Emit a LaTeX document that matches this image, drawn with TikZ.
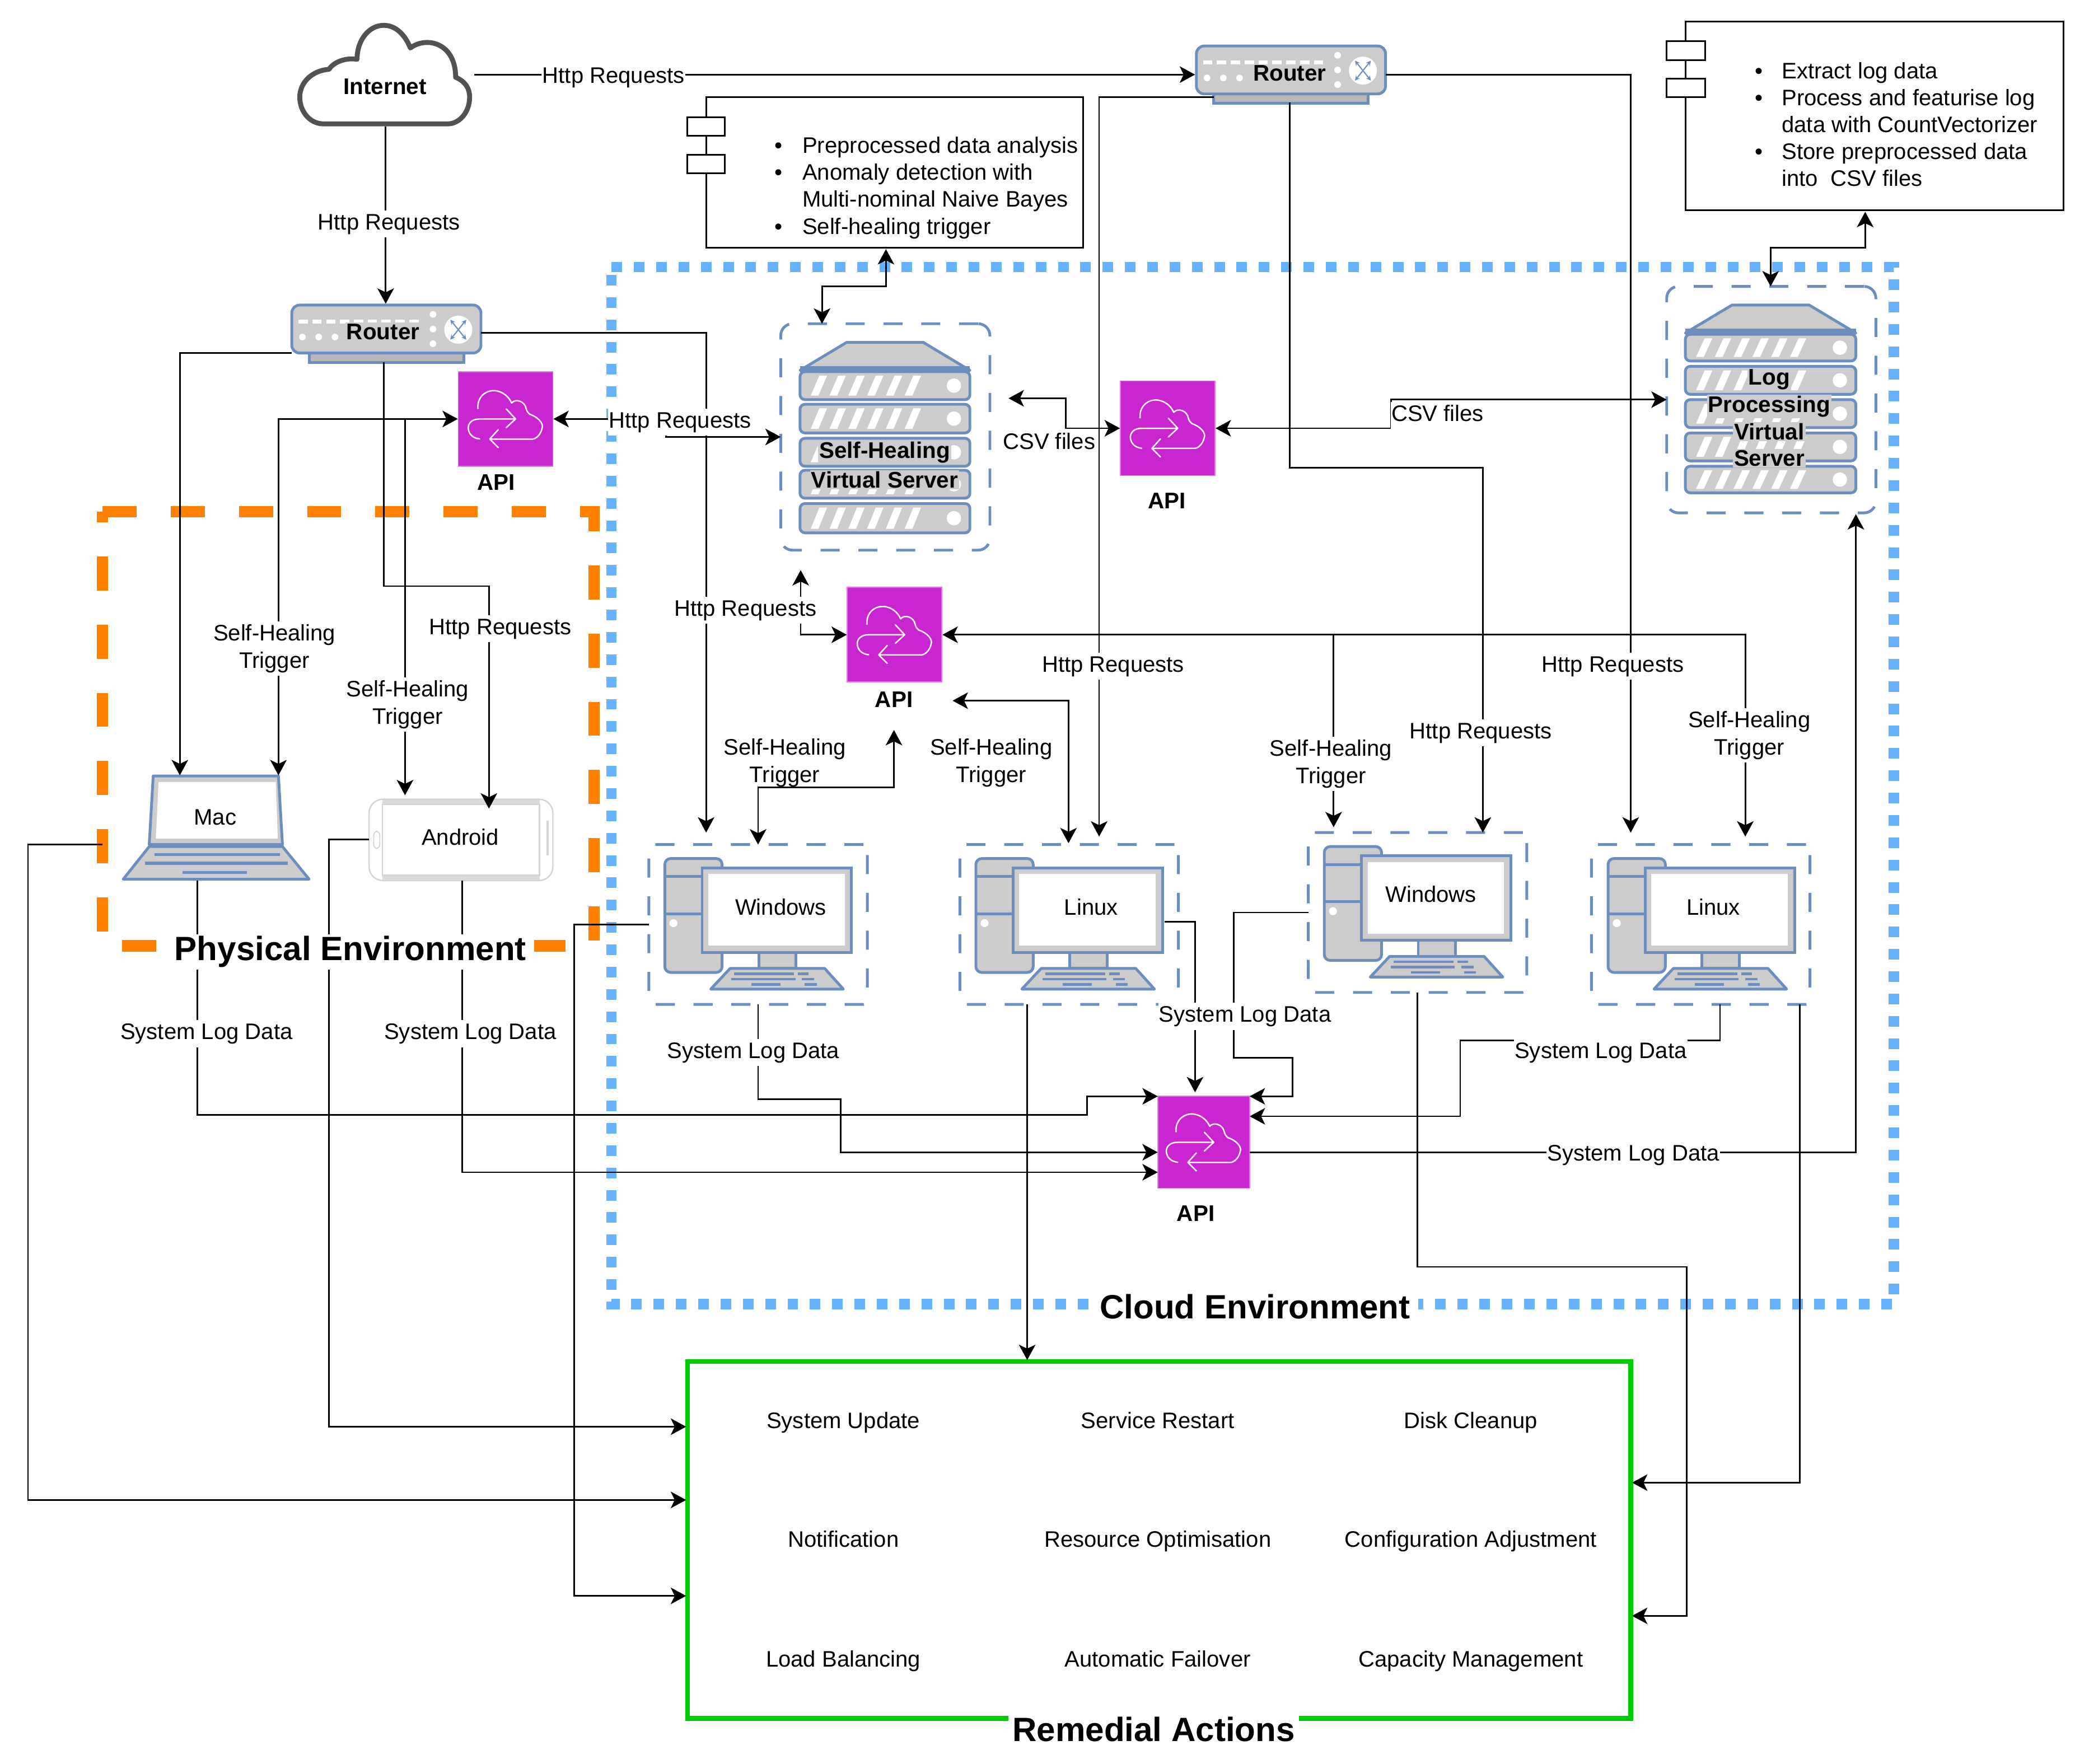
\documentclass[tikz,border=0pt]{standalone}
\usepackage{fontspec}
\setmainfont{Liberation Sans}
\usetikzlibrary{arrows.meta}
\definecolor{srvb}{HTML}{6C8EBF}
\definecolor{gr}{HTML}{CCCCCC}
\definecolor{bluef}{HTML}{66B2FF}
\definecolor{orf}{HTML}{FF8000}
\definecolor{apic}{HTML}{C925D1}
\definecolor{grn}{HTML}{00CC00}
\newcommand\uu{0.023795cm}
\tikzset{
 >={Stealth[length=7.8pt,width=8.4pt,inset=2pt]},
 conn/.style={draw=black,line width=0.8pt},
 lab/.style={fill=white,inner xsep=0.4pt,inner ysep=1.5pt,align=center,text height=8.3pt,text depth=2.4pt,yshift=-1.35pt,font=\fontsize{11.4}{13.9}\selectfont},
 labtwo/.style={fill=white,inner xsep=0.4pt,inner ysep=1.5pt,align=center,yshift=-1.35pt,font=\fontsize{11.4}{13.9}\selectfont},
 txt/.style={inner sep=0pt,align=center,text height=8.3pt,text depth=2.4pt,yshift=-1.35pt,font=\fontsize{11.4}{13.9}\selectfont},
 btxt/.style={inner sep=0pt,align=center,font=\fontsize{11.5}{13.9}\selectfont\bfseries},
 glab/.style={fill=gr,inner sep=0.6pt,align=center,font=\fontsize{11.5}{13.9}\selectfont\bfseries},
 title/.style={fill=white,inner xsep=4pt,inner ysep=1pt,font=\fontsize{17.1}{20}\selectfont\bfseries},
 srvline/.style={draw=srvb,line width=1.4pt},
 grp/.style={draw=srvb,line width=1.4pt,dash pattern=on 9.7pt off 9.5pt,inner sep=0pt},
 apibox/.style={fill=apic,draw=apic!60!white,line width=0.5pt,inner sep=0pt},
 apiline/.style={draw=white,line width=0.7pt,line cap=round,line join=round},
 comp/.style={draw=black,line width=0.85pt,fill=white},
 bul/.style={inner sep=0pt,anchor=north west,font=\fontsize{11.4}{13.7}\selectfont},
}
\newcommand\srvrow[4]{%
 \draw[srvline,fill=gr,rounded corners=2.5pt] (#1,#2) rectangle (#3,#4);
 \foreach \i in {0,...,5}{\fill[white] ({#1+8+14.1*\i},{#4-3}) -- ++(5.8,0) -- ++(6.5,{-(#4-#2-6)}) -- ++(-5.8,0) -- cycle;}
 \fill[white] ({#3-12},{(#2+#4)/2}) circle [radius=5.4];
}
\newcommand\srvtop[4]{%
 \draw[srvline,fill=gr,line join=round] (#1,#4) -- ({#1+35},#2) -- ({#3-35},#2) -- (#3,#4) -- cycle;
 \draw[draw=srvb,line width=3.2pt] (#1,{#4-1}) -- (#3,{#4-1});
}
\newcommand\apinode[4]{% name cx cy size
 \node[apibox,minimum width=#4*\uu,minimum height=#4*\uu] (#1) at (#2,#3) {};
 \begin{scope}[shift={({#2-35.5},{#3-35.5})}]
  \draw[apiline] (14.7,27.7) .. controls (14,18) and (22,13) .. (29,14.5) .. controls (34,15.5) and (38,19) .. (40,23.5) .. controls (43,20) and (50,22) .. (51,28) .. controls (51.5,30) and (52.5,31) .. (53.6,32) .. controls (60,34) and (64,39) .. (63,42) .. controls (62,47) and (59,50) .. (56,50.6) -- (24,50.6);
  \draw[apiline] (43,35.5) -- (16,35.5) .. controls (10,35.5) and (7,39) .. (7.5,43) .. controls (8,47) and (11,50) .. (16,50.5);
  \draw[apiline] (36,28) -- (43,35.5) -- (36,42);
  \draw[apiline] (30,43.5) -- (23.6,50.6) -- (30,57);
 \end{scope}
}
\newcommand\routericon[3]{% name x y (top-left)
 \begin{scope}[shift={(#2,#3)}]
  \draw[srvline,fill=gr!90!black] (13,36) rectangle (129,43);
  \draw[srvline,fill=gr,rounded corners=4pt] (0,0) rectangle (142,36);
  \foreach \i in {0,...,8}{\fill[white] ({5+10.4*\i},11) rectangle ++(7,3);}
  \foreach \i in {0,1,2}{\fill[white] ({8+12.2*\i},24) circle [radius=2.5];}
  \foreach \i in {0,1,2}{\fill[white] (106,{7+11*\i}) circle [radius=2.5];}
  \fill[white] (125,18.5) circle [radius=10.5];
  \draw[srvb,line width=0.6pt,{Stealth[length=2.5pt,width=2.5pt]}-{Stealth[length=2.5pt,width=2.5pt]}] (119,11) -- (131,26);
  \draw[srvb,line width=0.6pt,{Stealth[length=2.5pt,width=2.5pt]}-{Stealth[length=2.5pt,width=2.5pt]}] (131,11) -- (119,26);
 \end{scope}
}
\newcommand\deskicon[2]{% dx dy (base = Windows A)
 \begin{scope}[shift={(#1,#2)}]
  \draw[srvline,fill=gr,rounded corners=3pt] (499,644.5) rectangle (542,730);
  \draw[srvline] (499,658) -- (527,658) (499,686) -- (527,686);
  \fill[white] (505.5,693) circle [radius=3];
  \draw[srvline,fill=gr] (569.5,715) rectangle (597.5,727);
  \draw[srvline,fill=gr,line join=round] (548,727) -- (619,727) -- (633,742.5) -- (533.5,742.5) -- cycle;
  \draw[draw=srvb,line width=1.2pt] (551,731) -- (596,731) (599,731) -- (607,731) (549,735) -- (597,735) (602,735) -- (611,735) (564,739) -- (586,739) (604,739) -- (613,739);
  \draw[srvline,fill=gr] (527,651.5) rectangle (639,715);
  \fill[white] (531.5,656) rectangle (634,710);
 \end{scope}
}
\begin{document}
\begin{tikzpicture}[x=\uu,y=-\uu]
\useasboundingbox (0,0) rectangle (1568,1324.2);
\fill[white] (0,0) rectangle (1568,1324.2);

% environment frames
\draw[draw=orf,line width=5.8pt,dash pattern=on 17.32pt off 17.32pt] (77,384) -- (446,384) -- (446,710) -- (77,710) -- cycle;
\draw[draw=bluef,line width=5.2pt,dash pattern=on 5.4pt off 5.94pt] (459,200.5) -- (1421.5,200.5) -- (1421.5,979) -- (459,979) -- cycle;
\draw[draw=grn,line width=2.4pt] (516,1022) rectangle (1224,1290);

% component boxes
\node[comp,minimum width=283*\uu,minimum height=113*\uu,inner sep=0pt] (boxA) at (671.5,129.5) {};
\node[comp,minimum width=28*\uu,minimum height=14*\uu,inner sep=0pt] (tabA1) at (530,95) {};
\node[comp,minimum width=28*\uu,minimum height=14*\uu,inner sep=0pt] (tabA2) at (530,123) {};
\node[bul] (boxAtxt) at (581.3,100.5) {\begin{tabular}{@{}p{14pt}@{}l@{}}\textbullet&Preprocessed data analysis\\\textbullet&Anomaly detection with\\&Multi-nominal Naive Bayes\\\textbullet&Self-healing trigger\end{tabular}};
\node[comp,minimum width=284*\uu,minimum height=142*\uu,inner sep=0pt] (boxB) at (1407,87) {};
\node[comp,minimum width=29*\uu,minimum height=14*\uu,inner sep=0pt] (tabB1) at (1265.5,38) {};
\node[comp,minimum width=29*\uu,minimum height=14*\uu,inner sep=0pt] (tabB2) at (1265.5,66) {};
\node[bul] (boxBtxt) at (1317,44.5) {\begin{tabular}{@{}p{13.6pt}@{}l@{}}\textbullet&Extract log data\\\textbullet&Process and featurise log\\&data with CountVectorizer\\\textbullet&Store preprocessed data\\&into\ \ CSV files\end{tabular}};

% internet
\draw[draw=black!68,line width=2.5pt,fill=white,line join=round] (243,93) .. controls (232,93) and (225,83) .. (225,73) .. controls (225,62) and (234,53) .. (247,52) .. controls (250,47) and (259,43) .. (268,44.5) .. controls (268,30) and (277,19) .. (288,19) .. controls (297,19) and (304,26) .. (308,36) .. controls (320,27) and (342,32) .. (342,58) .. controls (349,61) and (352.5,66) .. (352.5,73) .. controls (352.5,84) and (345,93) .. (336,93) -- cycle;
\coordinate (inetS) at (289.5,95);
\coordinate (inetE) at (356,56);

% routers
\routericon{rtA}{219}{229}
\routericon{rtB}{898}{34.5}
\coordinate (rtAn) at (289.5,228);
\coordinate (rtAw) at (219,265);
\coordinate (rtAe) at (361,250);
\coordinate (rtAs) at (288,272);
\coordinate (rtBw) at (897,56);
\coordinate (rtBsw) at (911,73);
\coordinate (rtBs) at (968,77);
\coordinate (rtBe) at (1040,56);

% servers
\node[grp,rounded corners=6pt,minimum width=157*\uu,minimum height=170*\uu] (shg) at (664.5,328) {};
\srvtop{600.5}{257}{728}{278}
\srvrow{600.5}{279}{728}{300}
\srvrow{600.5}{303.5}{728}{325}
\srvrow{600.5}{329}{728}{350}
\srvrow{600.5}{353}{728}{374}
\srvrow{600.5}{378}{728}{400}
\node[grp,rounded corners=6pt,minimum width=157*\uu,minimum height=170*\uu] (lpg) at (1329.5,300) {};
\srvtop{1265}{229}{1393}{250}
\srvrow{1265}{251}{1393}{271}
\srvrow{1265}{275}{1393}{296}
\srvrow{1265}{300}{1393}{321}
\srvrow{1265}{325}{1393}{346}
\srvrow{1265}{350}{1393}{370}

% api
\apinode{apiA}{379.5}{314.5}{71}
\apinode{apiB}{876.5}{321.5}{71}
\apinode{apiC}{671.5}{476.5}{71}
\apinode{apiD}{903.5}{857.5}{69}

% mac
\draw[srvline,fill=gr,line join=round] (115,582.5) -- (209,582.5) -- (212,634) -- (112,634) -- cycle;
\fill[white] (119,587) -- (207,587) -- (208.5,629.5) -- (117,629.5) -- cycle;
\draw[srvline,fill=gr,line join=round] (112,635.5) -- (212,635.5) -- (232,660) -- (92.5,660) -- cycle;
\draw[draw=srvb,line width=1.6pt] (116,641.5) -- (210,641.5) (109,648) -- (216,648) (137,655) -- (185.5,655);

% android
\draw[draw=gr!85!white,line width=0.7pt,fill=white,rounded corners=7pt] (277,600) rectangle (415,661);
\fill[gr!70!white] (287,600.5) rectangle (405,604);
\fill[gr!70!white] (287,656.5) rectangle (405,660.5);
\draw[draw=gr!85!white,line width=0.7pt] (287,604) rectangle (405,657);
\draw[draw=gr!85!white,line width=0.5pt,rounded corners=2pt] (280.5,624) rectangle (285,637);
\draw[draw=gr!85!white,line width=1.4pt] (411,616) -- (411,642);

% desktops
\node[grp,rounded corners=2pt,minimum width=164*\uu,minimum height=120*\uu] (wina) at (569,694) {};
\deskicon{0}{0}
\node[grp,rounded corners=2pt,minimum width=164*\uu,minimum height=120*\uu] (lina) at (802.5,694) {};
\deskicon{233.5}{0}
\node[grp,rounded corners=2pt,minimum width=164*\uu,minimum height=120*\uu] (winb) at (1064,685) {};
\deskicon{495}{-9}
\node[grp,rounded corners=2pt,minimum width=164*\uu,minimum height=120*\uu] (linb) at (1276.5,694) {};
\deskicon{708}{0}

% connector ends
\coordinate (macT1) at (135,582);
\coordinate (macT2) at (209,582);
\coordinate (andT1) at (304,597);
\coordinate (andT2) at (367,607);
\coordinate (shW) at (586,328);
\coordinate (shN) at (617,243);
\coordinate (shE) at (757,299);
\coordinate (shS) at (601,428);
\coordinate (boxAs) at (665,187);
\coordinate (boxBs) at (1400,159);
\coordinate (lpN) at (1329,215);
\coordinate (lpW) at (1251,300);
\coordinate (lpS) at (1393,386);
\coordinate (winaT1) at (530,625);
\coordinate (winaT2) at (569,634);
\coordinate (linaT1) at (802,633);
\coordinate (linaT2) at (825,628);
\coordinate (winbT1) at (1001,621);
\coordinate (winbT2) at (1113,625);
\coordinate (linbT1) at (1224,625);
\coordinate (linbT2) at (1310,628);
\coordinate (apiCt) at (671,548);
\coordinate (apiClbl) at (715,526);
\coordinate (macS) at (148,661);
\coordinate (macW) at (77,634);
\coordinate (andS) at (347,661);
\coordinate (andW) at (277,630);
\coordinate (winaS) at (569,754);
\coordinate (winaW) at (487,694);
\coordinate (linaS) at (771,754);
\coordinate (linaE) at (874,692);
\coordinate (winbW) at (982,685);
\coordinate (winbS) at (1064,745);
\coordinate (linbS1) at (1291,754);
\coordinate (linbS2) at (1351,754);
\coordinate (apiDa) at (869,823);
\coordinate (apiDb) at (869,865);
\coordinate (apiDc) at (869,880);
\coordinate (apiDt) at (897,820);
\coordinate (apiDe1) at (938,823);
\coordinate (apiDe2) at (938,838);
\coordinate (apiDout) at (938,865);
\coordinate (remA) at (515,1071);
\coordinate (remB) at (515,1126);
\coordinate (remC) at (515,1198);
\coordinate (remT) at (771,1021);
\coordinate (remD) at (1225,1113);
\coordinate (remE) at (1225,1213);

% connectors
\draw[conn,->] (inetS) -- (rtAn);
\draw[conn,->] (inetE) -- (rtBw);
\draw[conn,->] (rtAw) -| (macT1);
\draw[conn,->] (rtAe) -| (winaT1);
\draw[conn,->] (rtAs) |- (367,440) -- (andT2);
\draw[conn,<->] (macT2) |- (apiA.west);
\draw[conn,->] (304,314.5) -- (andT1);
\draw[conn,<->] (apiA.east) -- (500,314.5) |- (shW);
\draw[conn,<->] (shN) |- (665,215) -- (boxAs);
\draw[conn,<->] (shE) -| (800,321.5) -- (apiB.west);
\draw[conn,<->] (apiB.east) -- (1044,321.5) |- (lpW);
\draw[conn,<->] (lpN) |- (1400,186) -- (boxBs);
\draw[conn,->] (rtBsw) -| (linaT2);
\draw[conn,->] (rtBs) |- (1113,351) -- (winbT2);
\draw[conn,->] (rtBe) -| (linbT1);
\draw[conn,<->] (shS) |- (apiC.west);
\draw[conn,<->] (winaT2) |- (671,591) -- (apiCt);
\draw[conn,<->] (apiClbl) -| (linaT1);
\draw[conn,<->] (apiC.east) -| (linbT2);
\draw[conn,->] (1001,476.5) -- (winbT1);
\draw[conn,->] (macS) |- (816,837) |- (apiDa);
\draw[conn,->] (andS) |- (apiDc);
\draw[conn,->] (winaS) |- (631,825) |- (apiDb);
\draw[conn,->] (linaE) -| (apiDt);
\draw[conn,->] (winbW) -| (926,794) -| (970,823) -- (apiDe1);
\draw[conn,->] (linbS1) |- (1096,781) |- (apiDe2);
\draw[conn,->] (apiDout) -| (lpS);
\draw[conn,->] (macW) -| (21,1126) -- (remB);
\draw[conn,->] (andW) -| (247,1071) -- (remA);
\draw[conn,->] (winaW) -| (431,1198) -- (remC);
\draw[conn,->] (linaS) -- (remT);
\draw[conn,->] (winbS) |- (1266,951) |- (remE);
\draw[conn,->] (linbS2) |- (remD);

% connector labels
\node[lab] (l1) at (292,166) {Http Requests};
\node[lab] (l2) at (460.5,56) {Http Requests};
\node[lab] (l3) at (510.5,315) {Http Requests};
\node[lab] (l4) at (559.5,456) {Http Requests};
\node[lab] (l5) at (375.5,470) {Http Requests};
\node[lab] (l6) at (835.5,498) {Http Requests};
\node[lab] (l7) at (1111.5,548) {Http Requests};
\node[lab] (l8) at (1210.5,498) {Http Requests};
\node[labtwo] (l9) at (206,485) {Self-Healing\\Trigger};
\node[labtwo] (l10) at (306,527) {Self-Healing\\Trigger};
\node[labtwo,fill=none] (l11) at (589,570.5) {Self-Healing\\Trigger};
\node[labtwo] (l12) at (744,570.5) {Self-Healing\\Trigger};
\node[labtwo] (l13) at (999,571.5) {Self-Healing\\Trigger};
\node[labtwo] (l14) at (1313,550) {Self-Healing\\Trigger};
\node[lab] (l15) at (787.5,331) {CSV files};
\node[lab] (l16) at (1079,310) {CSV files};
\node[lab] (l17) at (155,774) {System Log Data};
\node[lab] (l18) at (353,774) {System Log Data};
\node[lab] (l19) at (565.5,788) {System Log Data};
\node[lab] (l20) at (934.5,761) {System Log Data};
\node[lab] (l21) at (1201.5,788) {System Log Data};
\node[lab] (l22) at (1226,865) {System Log Data};

% titles and shape labels
\node[title] (tPhys) at (263,714.5) {Physical Environment};
\node[title] (tCloud) at (942,981) {Cloud Environment};
\node[title,inner ysep=2pt,inner xsep=2pt] (tRem) at (866,1298) {Remedial Actions};
\node[btxt] (tInet) at (289,65) {Internet};
\node[glab] (tRtA) at (287.5,249) {Router};
\node[glab] (tRtB) at (968,55) {Router};
\node[glab] (tSH1) at (664,339.5) {Self-Healing};
\node[glab] (tSH2) at (664,360) {Virtual Server};
\node[glab] (tLP1) at (1328,285) {Log};
\node[glab] (tLP2) at (1328,305) {Processing};
\node[glab] (tLP3) at (1328,324) {Virtual};
\node[glab] (tLP4) at (1328,344) {Server};
\node[btxt] (tApiA) at (372.5,362) {API};
\node[btxt] (tApiB) at (876,376) {API};
\node[btxt] (tApiC) at (671,525) {API};
\node[btxt] (tApiD) at (897.5,911) {API};
\node[txt] (tMac) at (161.5,613) {Mac};
\node[txt] (tAnd) at (345.5,628) {Android};
\node[txt] (tWa) at (586,680.5) {Windows};
\node[txt] (tLa) at (819,680.5) {Linux};
\node[txt] (tWb) at (1074,671) {Windows};
\node[txt] (tLb) at (1286,680.5) {Linux};
\node[txt] (r1) at (633,1066) {System Update};
\node[txt] (r2) at (869,1066) {Service Restart};
\node[txt] (r3) at (1104,1066) {Disk Cleanup};
\node[txt] (r4) at (633,1155) {Notification};
\node[txt] (r5) at (869,1155) {Resource Optimisation};
\node[txt] (r6) at (1104,1155) {Configuration Adjustment};
\node[txt] (r7) at (633,1245) {Load Balancing};
\node[txt] (r8) at (869,1245) {Automatic Failover};
\node[txt] (r9) at (1104,1245) {Capacity Management};
\end{tikzpicture}
\end{document}
